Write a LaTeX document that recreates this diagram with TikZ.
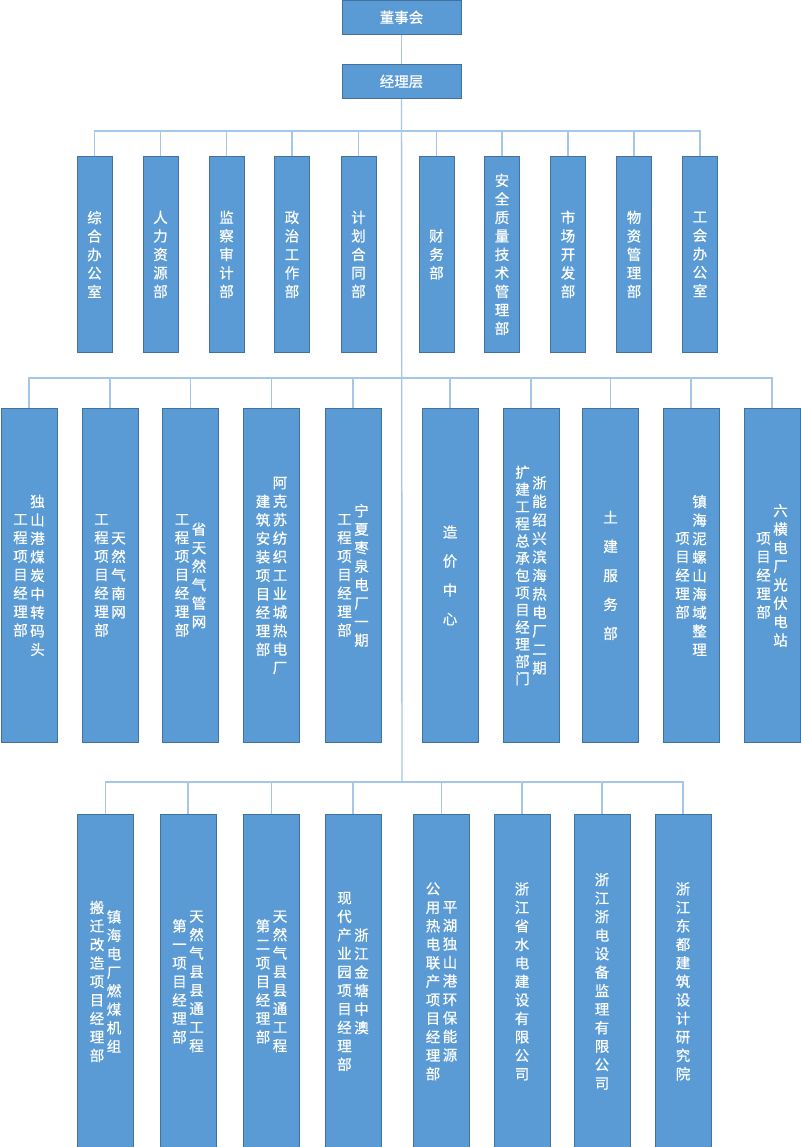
\documentclass[tikz,border=0pt]{standalone}
\usepackage{fontspec}
\setmainfont{Noto Sans CJK SC}[FakeBold=0.6]
\usepackage{xcolor}
\usepackage{tikz}

\definecolor{boxblue}{HTML}{5B9BD5}
\definecolor{boxedge}{HTML}{41719C}
\definecolor{linkblue}{HTML}{A4C6E8}

% one column of upright characters
\newcommand{\vcolloop}[1]{\ifx\relax#1\else#1\par\expandafter\vcolloop\fi}
\newcommand{\vcol}[2][18.5pt]{\parbox[c]{17pt}{\fontsize{14.5pt}{#1}\selectfont\centering\expandafter\vcolloop#2\relax}}

\tikzset{
  unit/.style={draw=boxedge, fill=boxblue, line width=0.8pt, text=white, inner sep=0pt, anchor=north},
  head/.style={unit, minimum width=119pt, minimum height=34pt, font=\fontsize{14.5pt}{16pt}\selectfont},
  dept/.style={unit, minimum width=35pt, minimum height=196pt},
  proj/.style={unit, minimum width=56pt, minimum height=334pt},
  link/.style={draw=linkblue, line width=1.4pt}
}

\begin{document}
\begin{tikzpicture}[x=1pt,y=-1pt]
\useasboundingbox (0,0) rectangle (800,1147);

\node[head] (dsh) at (401.5,0) {董事会};
\node[head] (jlc) at (401.5,64) {经理层};

\coordinate (bus1) at (402,131);
\coordinate (bus2) at (402,378);
\coordinate (bus3) at (402,782);

% departments
\foreach \x/\t [count=\i] in {94.5/{\vcol{综合办公室}}, 160.5/{\vcol{人力资源部}},
    226.5/{\vcol{监察审计部}}, 292/{\vcol{政治工作部}}, 358.5/{\vcol{计划合同部}},
    436.5/{\vcol{财务部}}, 502/{\vcol{安全质量技术管理部}}, 568/{\vcol{市场开发部}},
    634/{\vcol{物资管理部}}, 700/{\vcol{工会办公室}}} {
\node[dept] (d\i) at (\x,156) {\t};
}

% project departments
\foreach \x/\t [count=\i] in {29/{\vcol{工程项目经理部}\vcol{独山港煤炭中转码头}},
    110/{\vcol{工程项目经理部}\vcol{天然气南网}},
    190.5/{\vcol{工程项目经理部}\vcol{省天然气管网}},
    271.5/{\vcol{建筑安装项目经理部}\vcol{阿克苏纺织工业城热电厂}},
    353/{\vcol{工程项目经理部}\vcol{宁夏枣泉电厂一期}},
    450/{\vcol[29pt]{造价中心}},
    531/{\vcol[17.2pt]{扩建工程总承包项目经理部门}\vcol{浙能绍兴滨海热电厂二期}},
    610.5/{\vcol[29pt]{土建服务部}},
    691/{\vcol{项目经理部}\vcol{镇海泥螺山海域整理}},
    772/{\vcol{项目经理部}\vcol{六横电厂光伏电站}}} {
\node[proj] (p\i) at (\x,408) {\t};
}

% subsidiaries
\foreach \x/\t [count=\i] in {105.5/{\vcol{搬迁改造项目经理部}\vcol{镇海电厂燃煤机组}},
    188/{\vcol{第一项目经理部}\vcol{天然气县县通工程}},
    271.5/{\vcol{第二项目经理部}\vcol{天然气县县通工程}},
    353/{\vcol{现代产业园项目经理部}\vcol{浙江金塘中澳}},
    441.5/{\vcol{公用热电联产项目经理部}\vcol{平湖独山港环保能源}},
    522/{\vcol{浙江省水电建设有限公司}},
    602/{\vcol{浙江浙电设备监理有限公司}},
    683/{\vcol{浙江东都建筑设计研究院}}} {
\node[proj] (s\i) at (\x,814) {\t};
}

\draw[link] (dsh) -- (jlc);
\draw[link] (jlc) -- (bus3);
\foreach \i in {1,...,10} \draw[link] (bus1) -| (d\i.north);
\foreach \i in {1,...,10} \draw[link] (bus2) -| (p\i.north);
\foreach \i in {1,...,8} \draw[link] (bus3) -| (s\i.north);

\end{tikzpicture}
\end{document}
